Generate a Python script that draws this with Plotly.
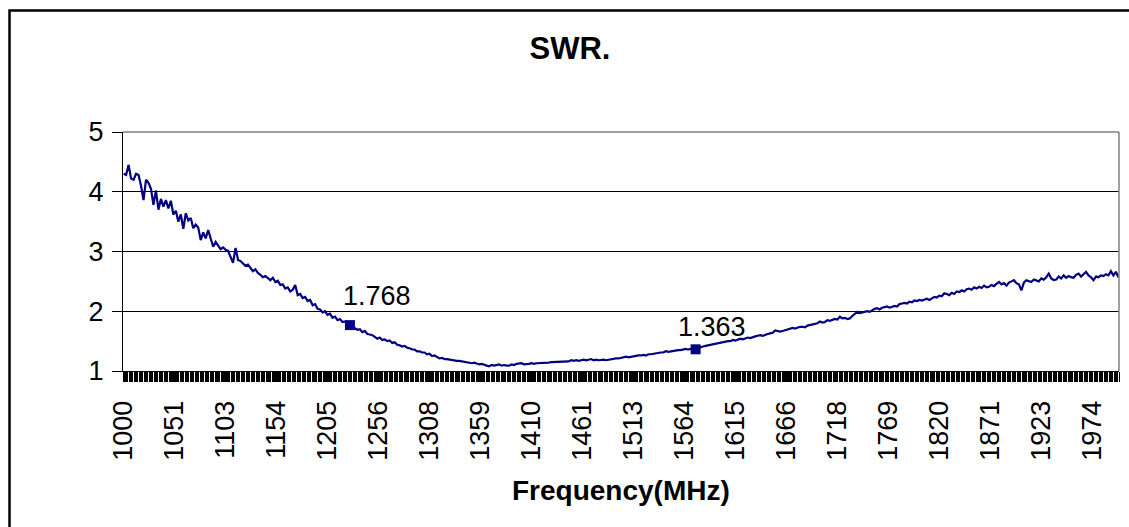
import plotly.graph_objects as go

# ---------------- data ----------------
freq_start = 1000.0
freq_step = 2.5          # MHz between the read values below
swr = [
    4.30, 4.28, 4.45, 4.22, 4.20, 4.30, 4.28, 4.10, 3.86, 4.20, 4.15, 4.05, 3.78, 4.02, 3.70, 3.88, 3.75, 3.86, 3.72, 3.85,
    3.62, 3.68, 3.50, 3.62, 3.38, 3.64, 3.52, 3.56, 3.39, 3.45, 3.40, 3.19, 3.32, 3.22, 3.36, 3.20, 3.08, 3.16, 3.10, 3.04,
    3.07, 3.03, 3.01, 2.92, 2.81, 3.06, 2.86, 2.84, 2.80, 2.76, 2.78, 2.72, 2.67, 2.70, 2.64, 2.61, 2.57, 2.59, 2.56, 2.52,
    2.56, 2.49, 2.51, 2.44, 2.45, 2.38, 2.40, 2.33, 2.36, 2.44, 2.27, 2.29, 2.22, 2.24, 2.17, 2.19, 2.10, 2.12, 2.04, 2.03,
    1.98, 2.00, 1.94, 1.96, 1.89, 1.91, 1.85, 1.87, 1.82, 1.83, 1.78, 1.768, 1.74, 1.72, 1.69, 1.70, 1.65, 1.67, 1.62, 1.61,
    1.60, 1.57, 1.54, 1.56, 1.52, 1.53, 1.50, 1.51, 1.47, 1.48, 1.44, 1.43, 1.41, 1.42, 1.39, 1.38, 1.36, 1.36, 1.33, 1.33,
    1.31, 1.31, 1.28, 1.29, 1.25, 1.26, 1.23, 1.21, 1.22, 1.20, 1.20, 1.19, 1.19, 1.18, 1.17, 1.17, 1.16, 1.15, 1.15, 1.14,
    1.13, 1.14, 1.12, 1.11, 1.12, 1.10, 1.09, 1.08, 1.10, 1.09, 1.10, 1.11, 1.09, 1.10, 1.09, 1.09, 1.11, 1.10, 1.12, 1.12,
    1.13, 1.11, 1.11, 1.12, 1.13, 1.12, 1.13, 1.13, 1.13, 1.13, 1.14, 1.14, 1.15, 1.15, 1.15, 1.15, 1.15, 1.15, 1.15, 1.16,
    1.18, 1.17, 1.18, 1.17, 1.18, 1.19, 1.18, 1.19, 1.20, 1.18, 1.19, 1.18, 1.19, 1.19, 1.18, 1.19, 1.20, 1.20, 1.21, 1.21,
    1.22, 1.22, 1.24, 1.23, 1.24, 1.25, 1.25, 1.26, 1.26, 1.27, 1.26, 1.28, 1.28, 1.29, 1.30, 1.30, 1.31, 1.31, 1.33, 1.32,
    1.33, 1.34, 1.34, 1.35, 1.35, 1.36, 1.37, 1.36, 1.37, 1.36, 1.363, 1.38, 1.40, 1.41, 1.42, 1.43, 1.44, 1.45, 1.46, 1.47,
    1.48, 1.48, 1.49, 1.50, 1.50, 1.52, 1.51, 1.53, 1.54, 1.53, 1.55, 1.56, 1.55, 1.57, 1.58, 1.59, 1.60, 1.59, 1.61, 1.62,
    1.63, 1.64, 1.68, 1.67, 1.66, 1.67, 1.68, 1.69, 1.71, 1.72, 1.71, 1.73, 1.74, 1.74, 1.73, 1.76, 1.77, 1.77, 1.79, 1.80,
    1.83, 1.81, 1.82, 1.85, 1.84, 1.86, 1.87, 1.86, 1.91, 1.88, 1.89, 1.87, 1.88, 1.92, 1.96, 1.99, 1.97, 1.98, 1.99, 2.00,
    1.99, 2.02, 2.04, 2.05, 2.03, 2.06, 2.07, 2.08, 2.06, 2.08, 2.09, 2.08, 2.12, 2.13, 2.14, 2.13, 2.16, 2.15, 2.18, 2.17,
    2.19, 2.18, 2.20, 2.21, 2.19, 2.22, 2.24, 2.23, 2.26, 2.25, 2.30, 2.29, 2.27, 2.31, 2.29, 2.33, 2.32, 2.35, 2.33, 2.37,
    2.38, 2.36, 2.40, 2.38, 2.41, 2.39, 2.43, 2.40, 2.41, 2.44, 2.42, 2.46, 2.49, 2.45, 2.47, 2.43, 2.48, 2.50, 2.52, 2.47,
    2.45, 2.35, 2.48, 2.52, 2.50, 2.49, 2.53, 2.52, 2.50, 2.55, 2.53, 2.57, 2.63, 2.55, 2.52, 2.53, 2.58, 2.55, 2.60, 2.56,
    2.59, 2.57, 2.56, 2.61, 2.63, 2.58, 2.62, 2.66, 2.60, 2.57, 2.52, 2.58, 2.57, 2.60, 2.59, 2.62, 2.60, 2.67, 2.60, 2.66,
    2.57,
]
freq = [freq_start + freq_step * i for i in range(len(swr))]

marker_freq = [1227.5, 1575.0]
marker_swr = [1.768, 1.363]
marker_text = ["1.768", "1.363"]

# category axis of the original: 801 categories 1.25 MHz apart, label every 41st
cat_step = 1.25
label_every = 41
tick_labels = ["1000", "1051", "1103", "1154", "1205", "1256", "1308", "1359", "1410", "1461",
               "1513", "1564", "1615", "1666", "1718", "1769", "1820", "1871", "1923", "1974"]
tick_pos = [freq_start + cat_step * label_every * k for k in range(len(tick_labels))]

y_ticks = [1, 2, 3, 4, 5]

# ---------------- figure ----------------
W, H = 1129, 527
L, R, T, B = 123, 10, 132, 156
pw, ph = W - L - R, H - T - B
FONT = "Arial, Liberation Sans, sans-serif"
NAVY = "#000080"


def px_x(p):
    return (p - L) / pw


def px_y(p):
    return (H - B - p) / ph


fig = go.Figure()
fig.add_trace(go.Scatter(x=freq, y=swr, mode="lines",
                         line=dict(color=NAVY, width=2.2), hoverinfo="skip"))
fig.add_trace(go.Scatter(x=marker_freq, y=marker_swr, mode="markers",
                         marker=dict(symbol="square", size=10, color=NAVY), hoverinfo="skip"))

shifts = [(27, 29), (16, 22)]
for fx, fy, t, (xs, ys) in zip(marker_freq, marker_swr, marker_text, shifts):
    fig.add_annotation(x=fx, y=fy, text=t, showarrow=False, xshift=xs, yshift=ys,
                       font=dict(family=FONT, size=27, color="black"))

# axis title
fig.add_annotation(xref="paper", yref="paper", x=0.5, y=px_y(490), text="<b>Frequency(MHz)</b>",
                   showarrow=False, xanchor="center", yanchor="middle",
                   font=dict(family=FONT, size=28, color="black"))

# plot-area gray border (top and right)
fig.add_shape(type="line", xref="paper", yref="paper", x0=0, x1=1, y0=1, y1=1,
              line=dict(color="#808080", width=1.5))
fig.add_shape(type="line", xref="paper", yref="paper", x0=1, x1=1, y0=0, y1=1,
              line=dict(color="#808080", width=1.5))
# chart-area outer border
fig.add_shape(type="rect", xref="paper", yref="paper",
              x0=px_x(9.5), x1=px_x(1145), y0=px_y(10.5), y1=px_y(545),
              line=dict(color="black", width=2.5))

fig.update_layout(
    width=W, height=H,
    margin=dict(l=L, r=R, t=T, b=B),
    paper_bgcolor="white", plot_bgcolor="white",
    showlegend=False,
    font=dict(family=FONT, color="black"),
    title=dict(text="<b>SWR.</b>", x=570 / W, xanchor="center", y=1 - 48 / H, yanchor="middle",
               font=dict(family=FONT, size=31, color="black")),
    xaxis=dict(
        range=[freq_start - cat_step / 2, freq_start + cat_step * 800 + cat_step / 2],
        tickmode="array", tickvals=tick_pos, ticktext=tick_labels, tickangle=-90,
        ticks="outside", ticklen=10, tickwidth=1, tickcolor="black",
        ticklabelstandoff=8,
        tickfont=dict(family=FONT, size=27, color="black"),
        showline=True, linecolor="black", linewidth=1,
        showgrid=False, zeroline=False,
        minor=dict(ticks="outside", ticklen=10, tickwidth=1, tickcolor="black",
                   tickmode="linear", tick0=freq_start - cat_step / 2, dtick=cat_step,
                   showgrid=False),
    ),
    yaxis=dict(
        range=[1, 5], tickmode="array", tickvals=y_ticks,
        ticks="outside", ticklen=10, tickwidth=1, tickcolor="black",
        ticklabelstandoff=3,
        tickfont=dict(family=FONT, size=27, color="black"),
        showline=True, linecolor="black", linewidth=1,
        showgrid=True, gridcolor="black", gridwidth=1, zeroline=False,
    ),
)

fig.write_html("out.html", config={"displayModeBar": False},
               post_script="document.body.style.margin='0';document.body.style.overflow='hidden';")
